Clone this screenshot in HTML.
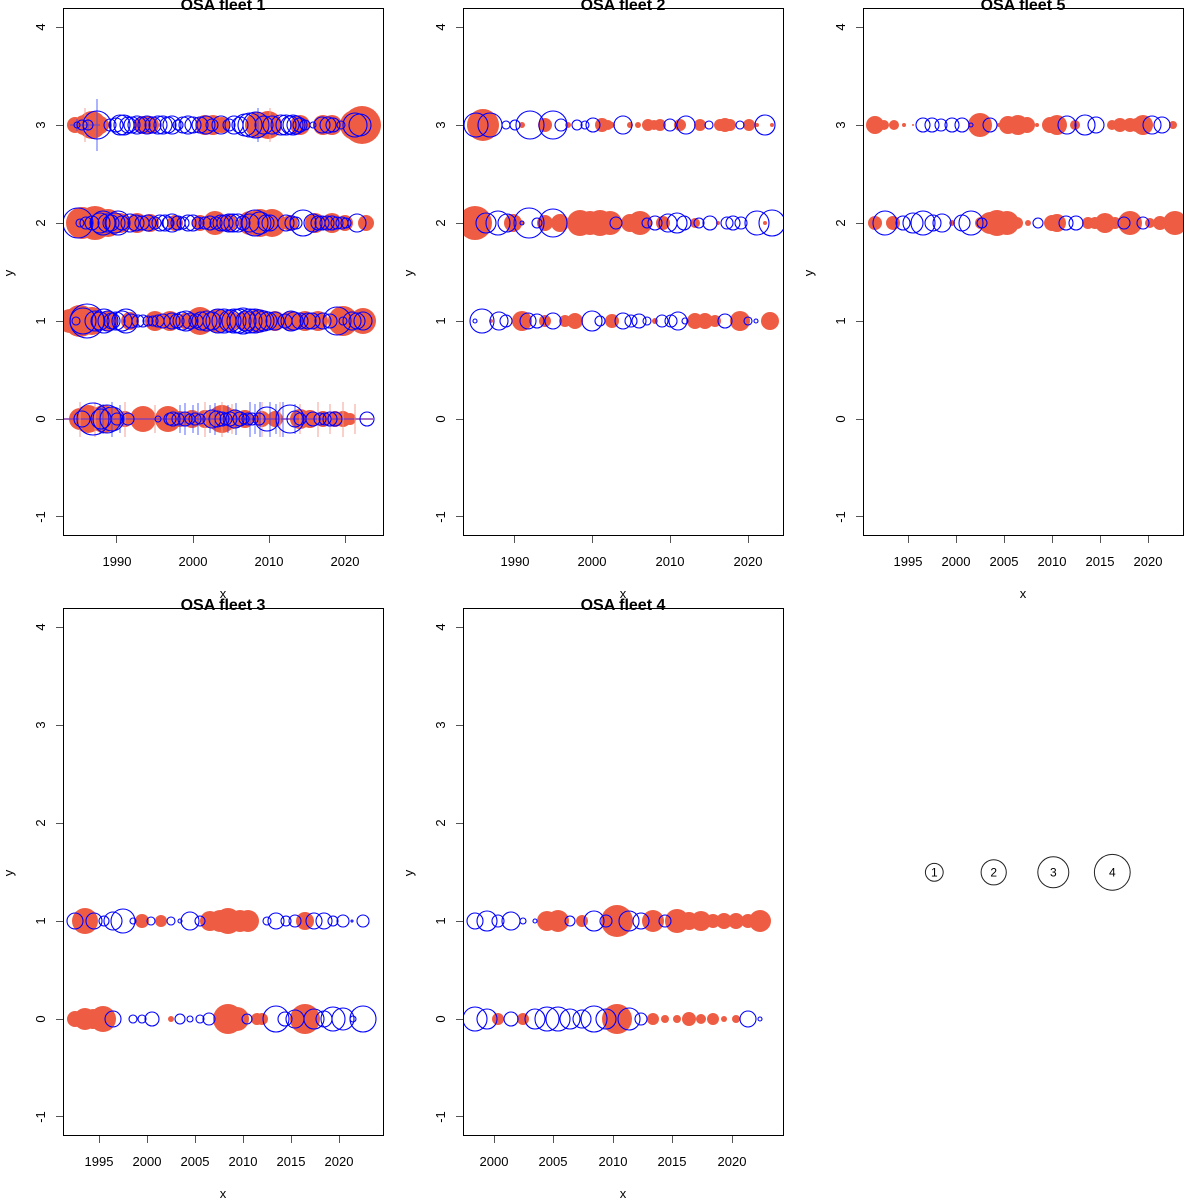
<!DOCTYPE html>
<html><head><meta charset="utf-8">
<style>
html,body{margin:0;padding:0;background:#fff;}
svg{display:block;}
text{font-family:"Liberation Sans",Arial,sans-serif;fill:#000;}
.f{fill:#EE5D43;stroke:none;}
.o{fill:none;stroke:#0000FF;stroke-width:1.1;}
.tk{stroke:#555;stroke-width:1;}
.bx{fill:none;stroke:#000;stroke-width:1;}
.tl{font-size:13px;}
.tt{font-size:16px;font-weight:bold;}
.vb{stroke:#3344ff;stroke-width:1;opacity:.8}
.vr{stroke:#f29a8a;stroke-width:1;opacity:.9}
</style></head>
<body>
<svg width="1200" height="1200" viewBox="0 0 1200 1200" xmlns="http://www.w3.org/2000/svg">
<defs>
<clipPath id="c1"><rect x="63" y="8" width="321" height="528"/></clipPath>
<clipPath id="c2"><rect x="463" y="8" width="321" height="528"/></clipPath>
<clipPath id="c3"><rect x="863" y="8" width="321" height="528"/></clipPath>
<clipPath id="c4"><rect x="63" y="608" width="321" height="528"/></clipPath>
<clipPath id="c5"><rect x="463" y="608" width="321" height="528"/></clipPath>
</defs>

<!-- ================= PANEL 1 ================= -->
<g clip-path="url(#c1)">
<!-- row 3 reds -->
<g class="f">
<circle cx="75" cy="125" r="8"/><circle cx="84" cy="125" r="10"/><circle cx="92" cy="125" r="14"/><circle cx="100" cy="125" r="9"/>
<circle cx="143" cy="125" r="9"/><circle cx="150" cy="125" r="9"/><circle cx="205" cy="125" r="10"/><circle cx="213" cy="125" r="10"/><circle cx="222" cy="125" r="8"/>
<circle cx="258" cy="125" r="13"/><circle cx="268" cy="125" r="14"/><circle cx="300" cy="125" r="10"/><circle cx="323" cy="125" r="10"/><circle cx="332" cy="125" r="10"/>
<circle cx="355" cy="125" r="15"/><circle cx="362" cy="125" r="19"/>
</g>
<!-- row 2 reds -->
<g class="f">
<circle cx="82" cy="223" r="16"/><circle cx="95" cy="223" r="17"/><circle cx="108" cy="223" r="14"/><circle cx="120" cy="223" r="10"/>
<circle cx="137" cy="223" r="10"/><circle cx="150" cy="223" r="9"/><circle cx="175" cy="223" r="8"/><circle cx="200" cy="223" r="8"/>
<circle cx="215" cy="223" r="12"/><circle cx="228" cy="223" r="9"/><circle cx="250" cy="223" r="12"/><circle cx="260" cy="223" r="14"/><circle cx="272" cy="223" r="14"/>
<circle cx="290" cy="223" r="8"/><circle cx="315" cy="223" r="10"/><circle cx="332" cy="223" r="10"/><circle cx="345" cy="223" r="8"/><circle cx="366" cy="223" r="8"/>
</g>
<!-- row 1 reds -->
<g class="f">
<circle cx="70" cy="321" r="12"/><circle cx="80" cy="321" r="16"/><circle cx="92" cy="321" r="14"/><circle cx="108" cy="321" r="10"/>
<circle cx="130" cy="321" r="9"/><circle cx="155" cy="321" r="10"/><circle cx="170" cy="321" r="10"/><circle cx="185" cy="321" r="8"/>
<circle cx="200" cy="321" r="14"/><circle cx="217" cy="321" r="12"/><circle cx="230" cy="321" r="10"/><circle cx="245" cy="321" r="10"/>
<circle cx="258" cy="321" r="12"/><circle cx="275" cy="321" r="10"/><circle cx="290" cy="321" r="10"/><circle cx="305" cy="321" r="10"/>
<circle cx="318" cy="321" r="10"/><circle cx="343" cy="321" r="15"/><circle cx="363" cy="321" r="13"/>
</g>
<!-- row 0 reds -->
<g class="f">
<circle cx="80" cy="419" r="11"/><circle cx="88" cy="419" r="14"/><circle cx="95" cy="419" r="10"/><circle cx="104" cy="419" r="14"/>
<circle cx="110" cy="419" r="12"/><circle cx="125" cy="419" r="8"/><circle cx="143" cy="419" r="13"/><circle cx="168" cy="419" r="13"/>
<circle cx="180" cy="419" r="8"/><circle cx="192" cy="419" r="9"/><circle cx="205" cy="419" r="9"/><circle cx="222" cy="419" r="14"/>
<circle cx="232" cy="419" r="10"/><circle cx="245" cy="419" r="9"/><circle cx="262" cy="419" r="8"/><circle cx="275" cy="419" r="8"/>
<circle cx="300" cy="419" r="10"/><circle cx="310" cy="419" r="9"/><circle cx="323" cy="419" r="8"/><circle cx="335" cy="419" r="8"/>
<circle cx="343" cy="419" r="8"/><circle cx="350" cy="419" r="6"/>
</g>
<!-- error bars -->
<line x1="63" y1="419" x2="373" y2="419" stroke="#8a3fb0" stroke-width="1.5"/>
<g class="vr">
<line x1="80" y1="402" x2="80" y2="437"/><line x1="95" y1="402" x2="95" y2="437"/><line x1="125" y1="402" x2="125" y2="437"/>
<line x1="155" y1="405" x2="155" y2="433"/><line x1="205" y1="402" x2="205" y2="437"/><line x1="222" y1="402" x2="222" y2="437"/>
<line x1="232" y1="404" x2="232" y2="434"/><line x1="262" y1="402" x2="262" y2="437"/><line x1="280" y1="402" x2="280" y2="437"/>
<line x1="300" y1="404" x2="300" y2="434"/><line x1="318" y1="402" x2="318" y2="437"/><line x1="330" y1="404" x2="330" y2="434"/>
<line x1="343" y1="402" x2="343" y2="437"/><line x1="355" y1="404" x2="355" y2="434"/>
<line x1="85" y1="108" x2="85" y2="142"/><line x1="270" y1="108" x2="270" y2="142"/>
</g>
<g class="vb">
<line x1="100" y1="404" x2="100" y2="434"/><line x1="103" y1="404" x2="103" y2="434"/><line x1="112" y1="402" x2="112" y2="437"/>
<line x1="120" y1="405" x2="120" y2="433"/><line x1="180" y1="405" x2="180" y2="433"/><line x1="185" y1="403" x2="185" y2="435"/>
<line x1="193" y1="405" x2="193" y2="433"/><line x1="198" y1="403" x2="198" y2="435"/><line x1="210" y1="405" x2="210" y2="433"/>
<line x1="215" y1="403" x2="215" y2="435"/><line x1="228" y1="405" x2="228" y2="433"/><line x1="236" y1="403" x2="236" y2="435"/>
<line x1="250" y1="402" x2="250" y2="437"/><line x1="255" y1="404" x2="255" y2="434"/><line x1="260" y1="402" x2="260" y2="437"/>
<line x1="270" y1="402" x2="270" y2="437"/><line x1="276" y1="404" x2="276" y2="434"/><line x1="283" y1="402" x2="283" y2="437"/>
<line x1="295" y1="404" x2="295" y2="434"/><line x1="97" y1="99" x2="97" y2="151"/><line x1="258" y1="108" x2="258" y2="142"/>
<line x1="70" y1="125" x2="100" y2="125"/><line x1="77" y1="119" x2="77" y2="131"/><line x1="88" y1="119" x2="88" y2="131"/>
</g>
<!-- blues -->
<g class="o">
<circle cx="77" cy="125" r="3"/><circle cx="82" cy="125" r="5"/><circle cx="88" cy="125" r="5"/><circle cx="97" cy="125" r="14"/>
<circle cx="110" cy="125" r="6"/><circle cx="116" cy="125" r="7"/><circle cx="120" cy="125" r="10"/><circle cx="124" cy="125" r="10"/>
<circle cx="128" cy="125" r="8"/><circle cx="132" cy="125" r="8"/><circle cx="137" cy="125" r="9"/><circle cx="142" cy="125" r="8"/>
<circle cx="147" cy="125" r="9"/><circle cx="153" cy="125" r="8"/><circle cx="158" cy="125" r="9"/><circle cx="163" cy="125" r="9"/>
<circle cx="168" cy="125" r="8"/><circle cx="172" cy="125" r="9"/><circle cx="178" cy="125" r="5"/><circle cx="183" cy="125" r="8"/>
<circle cx="188" cy="125" r="9"/><circle cx="193" cy="125" r="8"/><circle cx="200" cy="125" r="8"/><circle cx="206" cy="125" r="9"/>
<circle cx="212" cy="125" r="6"/><circle cx="221" cy="125" r="9"/><circle cx="229" cy="125" r="6"/><circle cx="234" cy="125" r="9"/>
<circle cx="240" cy="125" r="8"/><circle cx="245" cy="125" r="11"/><circle cx="250" cy="125" r="12"/><circle cx="256" cy="125" r="13"/>
<circle cx="264" cy="125" r="9"/><circle cx="272" cy="125" r="9"/><circle cx="281" cy="125" r="10"/><circle cx="286" cy="125" r="10"/>
<circle cx="290" cy="125" r="9"/><circle cx="293" cy="125" r="10"/><circle cx="296" cy="125" r="9"/><circle cx="300" cy="125" r="7"/>
<circle cx="305" cy="125" r="5"/><circle cx="313" cy="125" r="3"/><circle cx="322" cy="125" r="8"/><circle cx="328" cy="125" r="8"/>
<circle cx="333" cy="125" r="7"/><circle cx="341" cy="125" r="4"/><circle cx="355" cy="125" r="12"/><circle cx="360" cy="125" r="11"/>

<circle cx="78" cy="223" r="15"/><circle cx="80" cy="223" r="4"/><circle cx="86" cy="223" r="6"/><circle cx="92" cy="223" r="7"/>
<circle cx="100" cy="223" r="10"/><circle cx="103" cy="223" r="12"/><circle cx="107" cy="223" r="9"/><circle cx="111" cy="223" r="8"/>
<circle cx="115" cy="223" r="10"/><circle cx="118" cy="223" r="12"/><circle cx="122" cy="223" r="7"/><circle cx="130" cy="223" r="9"/>
<circle cx="136" cy="223" r="8"/><circle cx="142" cy="223" r="7"/><circle cx="148" cy="223" r="8"/><circle cx="155" cy="223" r="6"/>
<circle cx="160" cy="223" r="8"/><circle cx="165" cy="223" r="8"/><circle cx="168" cy="223" r="6"/><circle cx="172" cy="223" r="9"/>
<circle cx="178" cy="223" r="7"/><circle cx="183" cy="223" r="6"/><circle cx="188" cy="223" r="8"/><circle cx="193" cy="223" r="8"/>
<circle cx="198" cy="223" r="6"/><circle cx="205" cy="223" r="6"/><circle cx="210" cy="223" r="7"/><circle cx="216" cy="223" r="6"/>
<circle cx="221" cy="223" r="8"/><circle cx="225" cy="223" r="8"/><circle cx="229" cy="223" r="9"/><circle cx="233" cy="223" r="9"/>
<circle cx="238" cy="223" r="9"/><circle cx="243" cy="223" r="7"/><circle cx="250" cy="223" r="9"/><circle cx="255" cy="223" r="13"/>
<circle cx="260" cy="223" r="11"/><circle cx="266" cy="223" r="8"/><circle cx="270" cy="223" r="8"/><circle cx="286" cy="223" r="8"/>
<circle cx="292" cy="223" r="7"/><circle cx="296" cy="223" r="6"/><circle cx="303" cy="223" r="13"/><circle cx="313" cy="223" r="9"/>
<circle cx="318" cy="223" r="7"/><circle cx="322" cy="223" r="7"/><circle cx="327" cy="223" r="7"/><circle cx="332" cy="223" r="7"/>
<circle cx="337" cy="223" r="6"/><circle cx="342" cy="223" r="6"/><circle cx="346" cy="223" r="5"/><circle cx="357" cy="223" r="9"/>

<circle cx="76" cy="321" r="4"/><circle cx="83" cy="321" r="13"/><circle cx="87" cy="321" r="17"/><circle cx="95" cy="321" r="10"/>
<circle cx="100" cy="321" r="9"/><circle cx="104" cy="321" r="12"/><circle cx="108" cy="321" r="10"/><circle cx="112" cy="321" r="8"/>
<circle cx="116" cy="321" r="9"/><circle cx="122" cy="321" r="10"/><circle cx="126" cy="321" r="12"/><circle cx="131" cy="321" r="7"/>
<circle cx="138" cy="321" r="6"/><circle cx="143" cy="321" r="6"/><circle cx="148" cy="321" r="5"/><circle cx="153" cy="321" r="5"/>
<circle cx="158" cy="321" r="6"/><circle cx="163" cy="321" r="7"/><circle cx="172" cy="321" r="8"/><circle cx="177" cy="321" r="7"/>
<circle cx="182" cy="321" r="9"/><circle cx="186" cy="321" r="10"/><circle cx="190" cy="321" r="8"/><circle cx="196" cy="321" r="7"/>
<circle cx="201" cy="321" r="9"/><circle cx="207" cy="321" r="10"/><circle cx="212" cy="321" r="9"/><circle cx="218" cy="321" r="12"/>
<circle cx="224" cy="321" r="12"/><circle cx="230" cy="321" r="11"/><circle cx="234" cy="321" r="12"/><circle cx="239" cy="321" r="12"/>
<circle cx="243" cy="321" r="13"/><circle cx="246" cy="321" r="10"/><circle cx="250" cy="321" r="12"/><circle cx="255" cy="321" r="12"/>
<circle cx="260" cy="321" r="11"/><circle cx="264" cy="321" r="10"/><circle cx="268" cy="321" r="9"/><circle cx="275" cy="321" r="9"/>
<circle cx="285" cy="321" r="7"/><circle cx="291" cy="321" r="10"/><circle cx="294" cy="321" r="9"/><circle cx="300" cy="321" r="8"/>
<circle cx="308" cy="321" r="8"/><circle cx="312" cy="321" r="8"/><circle cx="323" cy="321" r="8"/><circle cx="330" cy="321" r="7"/>
<circle cx="337" cy="321" r="14"/><circle cx="343" cy="321" r="4"/><circle cx="352" cy="321" r="9"/><circle cx="357" cy="321" r="8"/><circle cx="363" cy="321" r="9"/>

<circle cx="82" cy="419" r="8"/><circle cx="93" cy="419" r="16"/><circle cx="101" cy="419" r="10"/><circle cx="107" cy="419" r="14"/>
<circle cx="112" cy="419" r="12"/><circle cx="117" cy="419" r="6"/><circle cx="128" cy="419" r="6"/><circle cx="158" cy="419" r="3"/>
<circle cx="170" cy="419" r="6"/><circle cx="173" cy="419" r="7"/><circle cx="178" cy="419" r="6"/><circle cx="185" cy="419" r="7"/>
<circle cx="190" cy="419" r="5"/><circle cx="195" cy="419" r="6"/><circle cx="200" cy="419" r="5"/><circle cx="212" cy="419" r="9"/>
<circle cx="217" cy="419" r="8"/><circle cx="222" cy="419" r="7"/><circle cx="226" cy="419" r="6"/><circle cx="230" cy="419" r="7"/>
<circle cx="235" cy="419" r="9"/><circle cx="240" cy="419" r="7"/><circle cx="244" cy="419" r="5"/><circle cx="248" cy="419" r="6"/>
<circle cx="252" cy="419" r="6"/><circle cx="259" cy="419" r="6"/><circle cx="267" cy="419" r="12"/><circle cx="290" cy="419" r="14"/>
<circle cx="295" cy="419" r="8"/><circle cx="300" cy="419" r="6"/><circle cx="313" cy="419" r="7"/><circle cx="320" cy="419" r="6"/>
<circle cx="325" cy="419" r="6"/><circle cx="330" cy="419" r="7"/><circle cx="335" cy="419" r="7"/><circle cx="367" cy="419" r="7"/>
</g>
</g>

<!-- ================= PANEL 2 ================= -->
<g clip-path="url(#c2)">
<g class="f">
<circle cx="483" cy="125" r="16"/><circle cx="522" cy="125" r="3"/><circle cx="545" cy="125" r="7"/><circle cx="568" cy="125" r="3"/>
<circle cx="602" cy="125" r="7"/><circle cx="608" cy="125" r="5"/><circle cx="612" cy="125" r="3"/><circle cx="630" cy="125" r="3"/><circle cx="638" cy="125" r="3"/>
<circle cx="648" cy="125" r="6"/><circle cx="654" cy="125" r="5"/><circle cx="660" cy="125" r="6"/><circle cx="680" cy="125" r="6"/><circle cx="700" cy="125" r="6"/>
<circle cx="720" cy="125" r="6"/><circle cx="725" cy="125" r="7"/><circle cx="730" cy="125" r="6"/><circle cx="749" cy="125" r="6"/><circle cx="757" cy="125" r="2"/><circle cx="772" cy="125" r="2"/>

<circle cx="475" cy="223" r="17"/><circle cx="513" cy="223" r="9"/><circle cx="522" cy="223" r="2"/><circle cx="545" cy="223" r="8"/>
<circle cx="560" cy="223" r="9"/><circle cx="580" cy="223" r="13"/><circle cx="590" cy="223" r="12"/><circle cx="600" cy="223" r="13"/>
<circle cx="610" cy="223" r="12"/><circle cx="630" cy="223" r="9"/><circle cx="640" cy="223" r="12"/><circle cx="663" cy="223" r="7"/>
<circle cx="695" cy="223" r="5"/><circle cx="718" cy="223" r="2"/><circle cx="765" cy="223" r="2"/>

<circle cx="491" cy="321" r="2"/><circle cx="522" cy="321" r="10"/><circle cx="545" cy="321" r="6"/><circle cx="565" cy="321" r="6"/>
<circle cx="575" cy="321" r="8"/><circle cx="612" cy="321" r="7"/><circle cx="655" cy="321" r="3"/><circle cx="695" cy="321" r="8"/>
<circle cx="705" cy="321" r="8"/><circle cx="715" cy="321" r="6"/><circle cx="740" cy="321" r="10"/><circle cx="770" cy="321" r="9"/>
</g>
<g class="o">
<circle cx="476" cy="125" r="12"/><circle cx="490" cy="125" r="12"/><circle cx="506" cy="125" r="4"/><circle cx="515" cy="125" r="5"/>
<circle cx="530" cy="125" r="14"/><circle cx="553" cy="125" r="14"/><circle cx="561" cy="125" r="6"/><circle cx="577" cy="125" r="5"/>
<circle cx="585" cy="125" r="4"/><circle cx="593" cy="125" r="7"/><circle cx="623" cy="125" r="9"/><circle cx="670" cy="125" r="6"/>
<circle cx="686" cy="125" r="9"/><circle cx="709" cy="125" r="4"/><circle cx="740" cy="125" r="4"/><circle cx="765" cy="125" r="10"/>

<circle cx="486" cy="223" r="10"/><circle cx="498" cy="223" r="12"/><circle cx="507" cy="223" r="9"/><circle cx="522" cy="223" r="2"/>
<circle cx="529" cy="223" r="15"/><circle cx="537" cy="223" r="5"/><circle cx="553" cy="223" r="14"/><circle cx="616" cy="223" r="6"/>
<circle cx="647" cy="223" r="5"/><circle cx="655" cy="223" r="7"/><circle cx="668" cy="223" r="9"/><circle cx="677" cy="223" r="10"/>
<circle cx="684" cy="223" r="7"/><circle cx="699" cy="223" r="5"/><circle cx="710" cy="223" r="7"/><circle cx="727" cy="223" r="6"/>
<circle cx="733" cy="223" r="7"/><circle cx="741" cy="223" r="6"/><circle cx="757" cy="223" r="12"/><circle cx="772" cy="223" r="13"/>

<circle cx="475" cy="321" r="2"/><circle cx="482" cy="321" r="12"/><circle cx="499" cy="321" r="9"/><circle cx="506" cy="321" r="6"/>
<circle cx="528" cy="321" r="8"/><circle cx="537" cy="321" r="7"/><circle cx="553" cy="321" r="8"/><circle cx="592" cy="321" r="10"/>
<circle cx="600" cy="321" r="5"/><circle cx="623" cy="321" r="8"/><circle cx="631" cy="321" r="6"/><circle cx="639" cy="321" r="7"/>
<circle cx="647" cy="321" r="4"/><circle cx="662" cy="321" r="6"/><circle cx="671" cy="321" r="6"/><circle cx="678" cy="321" r="9"/>
<circle cx="685" cy="321" r="3"/><circle cx="725" cy="321" r="7"/><circle cx="748" cy="321" r="4"/><circle cx="756" cy="321" r="2"/>
</g>
</g>

<!-- ================= PANEL 3 ================= -->
<g clip-path="url(#c3)">
<g class="f">
<circle cx="875" cy="125" r="9"/><circle cx="884" cy="125" r="5"/><circle cx="894" cy="125" r="5"/><circle cx="904" cy="125" r="2"/><circle cx="913" cy="125" r="1"/>
<circle cx="980" cy="125" r="12"/><circle cx="999" cy="125" r="2"/><circle cx="1008" cy="125" r="9"/><circle cx="1018" cy="125" r="10"/>
<circle cx="1027" cy="125" r="8"/><circle cx="1037" cy="125" r="2"/><circle cx="1050" cy="125" r="8"/><circle cx="1057" cy="125" r="10"/>
<circle cx="1075" cy="125" r="5"/><circle cx="1112" cy="125" r="5"/><circle cx="1120" cy="125" r="7"/><circle cx="1130" cy="125" r="7"/>
<circle cx="1137" cy="125" r="7"/><circle cx="1143" cy="125" r="10"/><circle cx="1173" cy="125" r="4"/>

<circle cx="875" cy="223" r="7"/><circle cx="893" cy="223" r="7"/><circle cx="952" cy="223" r="3"/><circle cx="981" cy="223" r="6"/>
<circle cx="990" cy="223" r="11"/><circle cx="997" cy="223" r="13"/><circle cx="1007" cy="223" r="12"/><circle cx="1017" cy="223" r="6"/>
<circle cx="1028" cy="223" r="3"/><circle cx="1052" cy="223" r="8"/><circle cx="1057" cy="223" r="9"/><circle cx="1088" cy="223" r="6"/>
<circle cx="1095" cy="223" r="6"/><circle cx="1105" cy="223" r="10"/><circle cx="1115" cy="223" r="6"/><circle cx="1130" cy="223" r="12"/>
<circle cx="1150" cy="223" r="5"/><circle cx="1160" cy="223" r="7"/><circle cx="1175" cy="223" r="12"/>
</g>
<g class="o">
<circle cx="923" cy="125" r="7"/><circle cx="932" cy="125" r="7"/><circle cx="941" cy="125" r="6"/><circle cx="952" cy="125" r="7"/>
<circle cx="962" cy="125" r="7"/><circle cx="971" cy="125" r="2"/><circle cx="990" cy="125" r="7"/><circle cx="1067" cy="125" r="9"/>
<circle cx="1085" cy="125" r="10"/><circle cx="1096" cy="125" r="8"/><circle cx="1152" cy="125" r="9"/><circle cx="1162" cy="125" r="8"/>

<circle cx="885" cy="223" r="12"/><circle cx="903" cy="223" r="7"/><circle cx="913" cy="223" r="10"/><circle cx="923" cy="223" r="12"/>
<circle cx="933" cy="223" r="8"/><circle cx="942" cy="223" r="9"/><circle cx="962" cy="223" r="8"/><circle cx="971" cy="223" r="12"/>
<circle cx="982" cy="223" r="5"/><circle cx="1038" cy="223" r="5"/><circle cx="1066" cy="223" r="7"/><circle cx="1076" cy="223" r="7"/>
<circle cx="1124" cy="223" r="6"/><circle cx="1143" cy="223" r="6"/>
</g>
</g>

<!-- ================= PANEL 4 (fleet 3) ================= -->
<g clip-path="url(#c4)">
<g class="f">
<circle cx="85" cy="921" r="13"/><circle cx="142" cy="921" r="7"/><circle cx="161" cy="921" r="6"/>
<circle cx="210" cy="921" r="10"/><circle cx="220" cy="921" r="11"/><circle cx="228" cy="921" r="13"/><circle cx="240" cy="921" r="11"/><circle cx="248" cy="921" r="11"/>
<circle cx="305" cy="921" r="9"/>
<circle cx="75" cy="1019" r="8"/><circle cx="85" cy="1019" r="11"/><circle cx="93" cy="1019" r="10"/><circle cx="103" cy="1019" r="13"/>
<circle cx="171" cy="1019" r="3"/><circle cx="228" cy="1019" r="15"/><circle cx="237" cy="1019" r="12"/><circle cx="257" cy="1019" r="6"/>
<circle cx="262" cy="1019" r="6"/><circle cx="305" cy="1019" r="15"/>
</g>
<g class="o">
<circle cx="75" cy="921" r="8"/><circle cx="94" cy="921" r="8"/><circle cx="104" cy="921" r="5"/><circle cx="113" cy="921" r="9"/>
<circle cx="123" cy="921" r="12"/><circle cx="133" cy="921" r="3"/><circle cx="151" cy="921" r="4"/><circle cx="171" cy="921" r="4"/>
<circle cx="180" cy="921" r="2"/><circle cx="190" cy="921" r="9"/><circle cx="200" cy="921" r="5"/><circle cx="267" cy="921" r="4"/>
<circle cx="276" cy="921" r="8"/><circle cx="286" cy="921" r="5"/><circle cx="295" cy="921" r="6"/><circle cx="314" cy="921" r="8"/>
<circle cx="324" cy="921" r="8"/><circle cx="333" cy="921" r="5"/><circle cx="343" cy="921" r="6"/><circle cx="352" cy="921" r="1"/><circle cx="363" cy="921" r="6"/>

<circle cx="113" cy="1019" r="8"/><circle cx="133" cy="1019" r="4"/><circle cx="142" cy="1019" r="4"/><circle cx="152" cy="1019" r="7"/>
<circle cx="180" cy="1019" r="5"/><circle cx="190" cy="1019" r="3"/><circle cx="200" cy="1019" r="4"/><circle cx="209" cy="1019" r="6"/>
<circle cx="247" cy="1019" r="5"/><circle cx="276" cy="1019" r="13"/><circle cx="285" cy="1019" r="7"/><circle cx="295" cy="1019" r="9"/>
<circle cx="314" cy="1019" r="10"/><circle cx="324" cy="1019" r="8"/><circle cx="333" cy="1019" r="12"/><circle cx="343" cy="1019" r="11"/>
<circle cx="353" cy="1019" r="3"/><circle cx="363" cy="1019" r="13"/>
</g>
</g>

<!-- ================= PANEL 5 (fleet 4) ================= -->
<g clip-path="url(#c5)">
<g class="f">
<circle cx="547" cy="921" r="10"/><circle cx="558" cy="921" r="11"/><circle cx="582" cy="921" r="6"/><circle cx="617" cy="921" r="16"/>
<circle cx="653" cy="921" r="11"/><circle cx="677" cy="921" r="12"/><circle cx="689" cy="921" r="9"/><circle cx="701" cy="921" r="10"/>
<circle cx="713" cy="921" r="7"/><circle cx="724" cy="921" r="8"/><circle cx="736" cy="921" r="8"/><circle cx="748" cy="921" r="7"/><circle cx="760" cy="921" r="11"/>
<circle cx="498" cy="1019" r="6"/><circle cx="523" cy="1019" r="6"/><circle cx="617" cy="1019" r="15"/><circle cx="653" cy="1019" r="6"/>
<circle cx="665" cy="1019" r="4"/><circle cx="677" cy="1019" r="4"/><circle cx="689" cy="1019" r="7"/><circle cx="701" cy="1019" r="5"/>
<circle cx="713" cy="1019" r="6"/><circle cx="724" cy="1019" r="3"/><circle cx="736" cy="1019" r="4"/>
</g>
<g class="o">
<circle cx="475" cy="921" r="8"/><circle cx="487" cy="921" r="10"/><circle cx="498" cy="921" r="6"/><circle cx="511" cy="921" r="9"/>
<circle cx="523" cy="921" r="3"/><circle cx="535" cy="921" r="2"/><circle cx="570" cy="921" r="5"/><circle cx="594" cy="921" r="10"/>
<circle cx="606" cy="921" r="6"/><circle cx="629" cy="921" r="10"/><circle cx="641" cy="921" r="8"/><circle cx="665" cy="921" r="6"/>
<circle cx="475" cy="1019" r="12"/><circle cx="487" cy="1019" r="10"/><circle cx="511" cy="1019" r="7"/><circle cx="535" cy="1019" r="10"/>
<circle cx="547" cy="1019" r="12"/><circle cx="558" cy="1019" r="12"/><circle cx="570" cy="1019" r="10"/><circle cx="582" cy="1019" r="9"/>
<circle cx="594" cy="1019" r="13"/><circle cx="606" cy="1019" r="10"/><circle cx="629" cy="1019" r="11"/><circle cx="641" cy="1019" r="6"/>
<circle cx="748" cy="1019" r="8"/><circle cx="760" cy="1019" r="2"/>
</g>
</g>

<!-- ================= AXES ================= -->
<!-- boxes -->
<rect class="bx" x="63.5" y="8.5" width="320" height="527"/>
<rect class="bx" x="463.5" y="8.5" width="320" height="527"/>
<rect class="bx" x="863.5" y="8.5" width="320" height="527"/>
<rect class="bx" x="63.5" y="608.5" width="320" height="527"/>
<rect class="bx" x="463.5" y="608.5" width="320" height="527"/>

<!-- y ticks (all panels) -->
<g class="tk">
<line x1="56" y1="27.5" x2="63" y2="27.5"/><line x1="56" y1="125.5" x2="63" y2="125.5"/><line x1="56" y1="223.5" x2="63" y2="223.5"/><line x1="56" y1="321.5" x2="63" y2="321.5"/><line x1="56" y1="419.5" x2="63" y2="419.5"/><line x1="56" y1="516.5" x2="63" y2="516.5"/>
<line x1="456" y1="27.5" x2="463" y2="27.5"/><line x1="456" y1="125.5" x2="463" y2="125.5"/><line x1="456" y1="223.5" x2="463" y2="223.5"/><line x1="456" y1="321.5" x2="463" y2="321.5"/><line x1="456" y1="419.5" x2="463" y2="419.5"/><line x1="456" y1="516.5" x2="463" y2="516.5"/>
<line x1="856" y1="27.5" x2="863" y2="27.5"/><line x1="856" y1="125.5" x2="863" y2="125.5"/><line x1="856" y1="223.5" x2="863" y2="223.5"/><line x1="856" y1="321.5" x2="863" y2="321.5"/><line x1="856" y1="419.5" x2="863" y2="419.5"/><line x1="856" y1="516.5" x2="863" y2="516.5"/>
<line x1="56" y1="627.5" x2="63" y2="627.5"/><line x1="56" y1="725.5" x2="63" y2="725.5"/><line x1="56" y1="823.5" x2="63" y2="823.5"/><line x1="56" y1="921.5" x2="63" y2="921.5"/><line x1="56" y1="1019.5" x2="63" y2="1019.5"/><line x1="56" y1="1116.5" x2="63" y2="1116.5"/>
<line x1="456" y1="627.5" x2="463" y2="627.5"/><line x1="456" y1="725.5" x2="463" y2="725.5"/><line x1="456" y1="823.5" x2="463" y2="823.5"/><line x1="456" y1="921.5" x2="463" y2="921.5"/><line x1="456" y1="1019.5" x2="463" y2="1019.5"/><line x1="456" y1="1116.5" x2="463" y2="1116.5"/>
</g>
<!-- x ticks -->
<g class="tk">
<line x1="116.5" y1="536" x2="116.5" y2="543"/><line x1="193.5" y1="536" x2="193.5" y2="543"/><line x1="269.5" y1="536" x2="269.5" y2="543"/><line x1="345.5" y1="536" x2="345.5" y2="543"/>
<line x1="514.5" y1="536" x2="514.5" y2="543"/><line x1="592.5" y1="536" x2="592.5" y2="543"/><line x1="670.5" y1="536" x2="670.5" y2="543"/><line x1="748.5" y1="536" x2="748.5" y2="543"/>
<line x1="908.5" y1="536" x2="908.5" y2="543"/><line x1="956.5" y1="536" x2="956.5" y2="543"/><line x1="1004.5" y1="536" x2="1004.5" y2="543"/><line x1="1052.5" y1="536" x2="1052.5" y2="543"/><line x1="1100.5" y1="536" x2="1100.5" y2="543"/><line x1="1148.5" y1="536" x2="1148.5" y2="543"/>
<line x1="99.5" y1="1136" x2="99.5" y2="1143"/><line x1="147.5" y1="1136" x2="147.5" y2="1143"/><line x1="195.5" y1="1136" x2="195.5" y2="1143"/><line x1="243.5" y1="1136" x2="243.5" y2="1143"/><line x1="291.5" y1="1136" x2="291.5" y2="1143"/><line x1="339.5" y1="1136" x2="339.5" y2="1143"/>
<line x1="494.5" y1="1136" x2="494.5" y2="1143"/><line x1="553.5" y1="1136" x2="553.5" y2="1143"/><line x1="613.5" y1="1136" x2="613.5" y2="1143"/><line x1="672.5" y1="1136" x2="672.5" y2="1143"/><line x1="732.5" y1="1136" x2="732.5" y2="1143"/>
</g>

<!-- x tick labels -->
<g class="tl" text-anchor="middle">
<text x="117" y="566">1990</text><text x="193" y="566">2000</text><text x="269" y="566">2010</text><text x="345" y="566">2020</text>
<text x="515" y="566">1990</text><text x="592" y="566">2000</text><text x="670" y="566">2010</text><text x="748" y="566">2020</text>
<text x="908" y="566">1995</text><text x="956" y="566">2000</text><text x="1004" y="566">2005</text><text x="1052" y="566">2010</text><text x="1100" y="566">2015</text><text x="1148" y="566">2020</text>
<text x="99" y="1166">1995</text><text x="147" y="1166">2000</text><text x="195" y="1166">2005</text><text x="243" y="1166">2010</text><text x="291" y="1166">2015</text><text x="339" y="1166">2020</text>
<text x="494" y="1166">2000</text><text x="553" y="1166">2005</text><text x="613" y="1166">2010</text><text x="672" y="1166">2015</text><text x="732" y="1166">2020</text>
<text x="223" y="598">x</text><text x="623" y="598">x</text><text x="1023" y="598">x</text>
<text x="223" y="1198">x</text><text x="623" y="1198">x</text>
</g>

<!-- y tick labels (rotated) -->
<g class="tl" text-anchor="middle">
<g transform="translate(45,0)">
<text transform="translate(0,27) rotate(-90)">4</text><text transform="translate(0,125) rotate(-90)">3</text><text transform="translate(0,223) rotate(-90)">2</text><text transform="translate(0,321) rotate(-90)">1</text><text transform="translate(0,419) rotate(-90)">0</text><text transform="translate(0,517) rotate(-90)">-1</text>
<text transform="translate(0,627) rotate(-90)">4</text><text transform="translate(0,725) rotate(-90)">3</text><text transform="translate(0,823) rotate(-90)">2</text><text transform="translate(0,921) rotate(-90)">1</text><text transform="translate(0,1019) rotate(-90)">0</text><text transform="translate(0,1117) rotate(-90)">-1</text>
<text transform="translate(-32,273) rotate(-90)">y</text><text transform="translate(-32,873) rotate(-90)">y</text>
</g>
<g transform="translate(445,0)">
<text transform="translate(0,27) rotate(-90)">4</text><text transform="translate(0,125) rotate(-90)">3</text><text transform="translate(0,223) rotate(-90)">2</text><text transform="translate(0,321) rotate(-90)">1</text><text transform="translate(0,419) rotate(-90)">0</text><text transform="translate(0,517) rotate(-90)">-1</text>
<text transform="translate(0,627) rotate(-90)">4</text><text transform="translate(0,725) rotate(-90)">3</text><text transform="translate(0,823) rotate(-90)">2</text><text transform="translate(0,921) rotate(-90)">1</text><text transform="translate(0,1019) rotate(-90)">0</text><text transform="translate(0,1117) rotate(-90)">-1</text>
<text transform="translate(-32,273) rotate(-90)">y</text><text transform="translate(-32,873) rotate(-90)">y</text>
</g>
<g transform="translate(845,0)">
<text transform="translate(0,27) rotate(-90)">4</text><text transform="translate(0,125) rotate(-90)">3</text><text transform="translate(0,223) rotate(-90)">2</text><text transform="translate(0,321) rotate(-90)">1</text><text transform="translate(0,419) rotate(-90)">0</text><text transform="translate(0,517) rotate(-90)">-1</text>
<text transform="translate(-32,273) rotate(-90)">y</text>
</g>
</g>

<!-- titles -->
<g class="tt" text-anchor="middle">
<text x="223" y="10">OSA fleet 1</text>
<text x="623" y="10">OSA fleet 2</text>
<text x="1023" y="10">OSA fleet 5</text>
<text x="223" y="610">OSA fleet 3</text>
<text x="623" y="610">OSA fleet 4</text>
</g>

<!-- legend -->
<g fill="none" stroke="#222" stroke-width="1">
<circle cx="934.3" cy="872.3" r="8.9"/>
<circle cx="993.7" cy="872.3" r="12.6"/>
<circle cx="1053.3" cy="872.3" r="15.5"/>
<circle cx="1112.3" cy="872.3" r="17.9"/>
</g>
<g class="tl" text-anchor="middle" style="font-size:12px">
<text x="934.3" y="876.5">1</text>
<text x="993.7" y="876.5">2</text>
<text x="1053.3" y="876.5">3</text>
<text x="1112.3" y="876.5">4</text>
</g>
</svg>
</body></html>
